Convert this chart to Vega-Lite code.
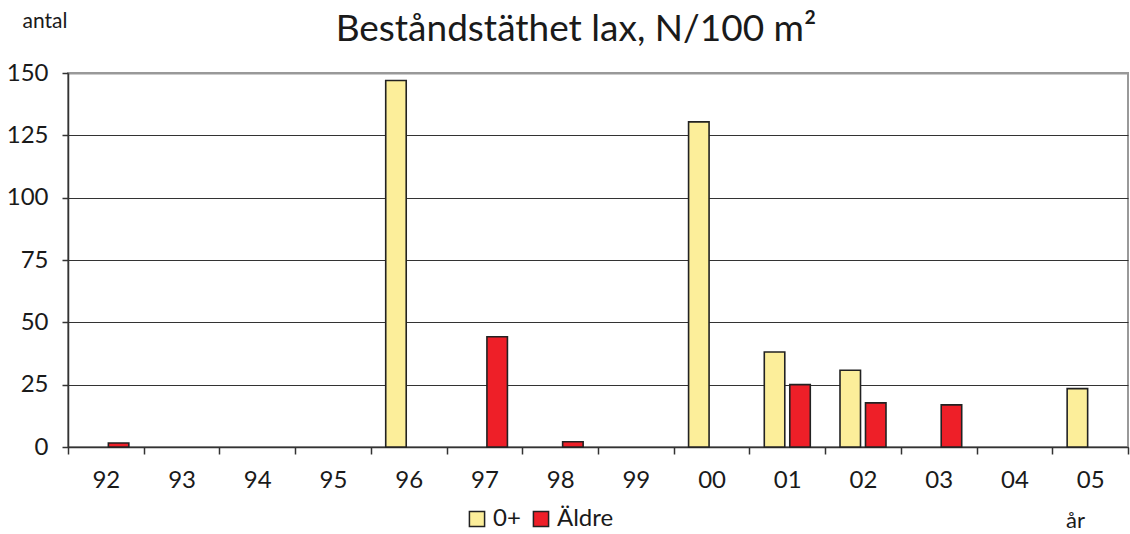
{
  "$schema": "https://vega.github.io/schema/vega-lite/v6.json",
  "width": 1060,
  "height": 374,
  "autosize": {"type": "none"},
  "padding": {"left": 68, "top": 73, "right": 2, "bottom": 87},
  "background": "white",
  "title": {
    "text": "Beståndstäthet lax, N/100 m²",
    "font": "Lato",
    "fontSize": 37,
    "fontWeight": "normal",
    "color": "#1a1a1a",
    "anchor": "middle",
    "frame": "group",
    "baseline": "alphabetic",
    "offset": 30,
    "dx": -22,
    "dy": 98
  },
  "data": {
    "values": [
      {"year": "92", "group": "Äldre", "value": 1.6},
      {"year": "96", "group": "0+", "value": 147},
      {"year": "97", "group": "Äldre", "value": 44.2},
      {"year": "98", "group": "Äldre", "value": 2.1},
      {"year": "00", "group": "0+", "value": 130.4},
      {"year": "01", "group": "0+", "value": 38.1},
      {"year": "01", "group": "Äldre", "value": 25},
      {"year": "02", "group": "0+", "value": 30.8},
      {"year": "02", "group": "Äldre", "value": 17.7},
      {"year": "03", "group": "Äldre", "value": 16.9},
      {"year": "05", "group": "0+", "value": 23.4}
    ]
  },
  "mark": {"type": "bar", "stroke": "#222222", "strokeWidth": 1.6},
  "encoding": {
    "x": {
      "field": "year",
      "type": "nominal",
      "scale": {
        "domain": ["92","93","94","95","96","97","98","99","00","01","02","03","04","05"],
        "paddingInner": 0,
        "paddingOuter": 0
      },
      "axis": {
        "title": "år",
        "titleFont": "Lato",
        "titleFontSize": 22,
        "titleFontWeight": "normal",
        "titleColor": "#1a1a1a",
        "titleX": 1007,
        "titleY": 73,
        "titleAlign": "center",
        "titleBaseline": "middle",
        "labelAngle": 0,
        "labelFont": "Lato",
        "labelFontSize": 24,
        "labelColor": "#1a1a1a",
        "labelPadding": 14,
        "tickBand": "extent",
        "tickSize": 7,
        "tickColor": "#333333",
        "tickWidth": 1.5,
        "domainColor": "#333333",
        "domainWidth": 1.5,
        "grid": false
      }
    },
    "xOffset": {
      "field": "group",
      "type": "nominal",
      "scale": {"domain": ["0+", "Äldre"], "paddingInner": 0.196, "paddingOuter": 0.583}
    },
    "y": {
      "field": "value",
      "type": "quantitative",
      "scale": {"domain": [0, 150], "nice": false},
      "axis": {
        "values": [0, 25, 50, 75, 100, 125, 150],
        "title": "antal",
        "titleFont": "Lato",
        "titleFontSize": 21,
        "titleFontWeight": "normal",
        "titleColor": "#1a1a1a",
        "titleAngle": 0,
        "titleAlign": "left",
        "titleBaseline": "alphabetic",
        "titleX": -46,
        "titleY": -46,
        "labelFont": "Lato",
        "labelFontSize": 24,
        "labelColor": "#1a1a1a",
        "labelPadding": 14,
        "tickSize": 6,
        "tickColor": "#333333",
        "tickWidth": 1.5,
        "domainColor": "#333333",
        "domainWidth": 1.5,
        "grid": true,
        "gridColor": {"condition": {"test": "datum.value == 150", "value": "#999999"}, "value": "#333333"},
        "gridWidth": {"condition": {"test": "datum.value == 150", "value": 2}, "value": 1}
      }
    },
    "fill": {
      "field": "group",
      "type": "nominal",
      "scale": {"domain": ["0+", "Äldre"], "range": ["#FCEE9A", "#EE1F28"]},
      "legend": {
        "title": null,
        "orient": "none",
        "direction": "horizontal",
        "legendX": 397,
        "legendY": 434,
        "symbolType": "square",
        "symbolSize": 230,
        "symbolStrokeColor": "#222222",
        "symbolStrokeWidth": 1.5,
        "symbolOpacity": 1,
        "labelFont": "Lato",
        "labelFontSize": 24,
        "labelColor": "#1a1a1a",
        "labelOffset": 4,
        "columnPadding": 8
      }
    }
  },
  "config": {
    "view": {"stroke": "#999999", "strokeWidth": 2}
  }
}
